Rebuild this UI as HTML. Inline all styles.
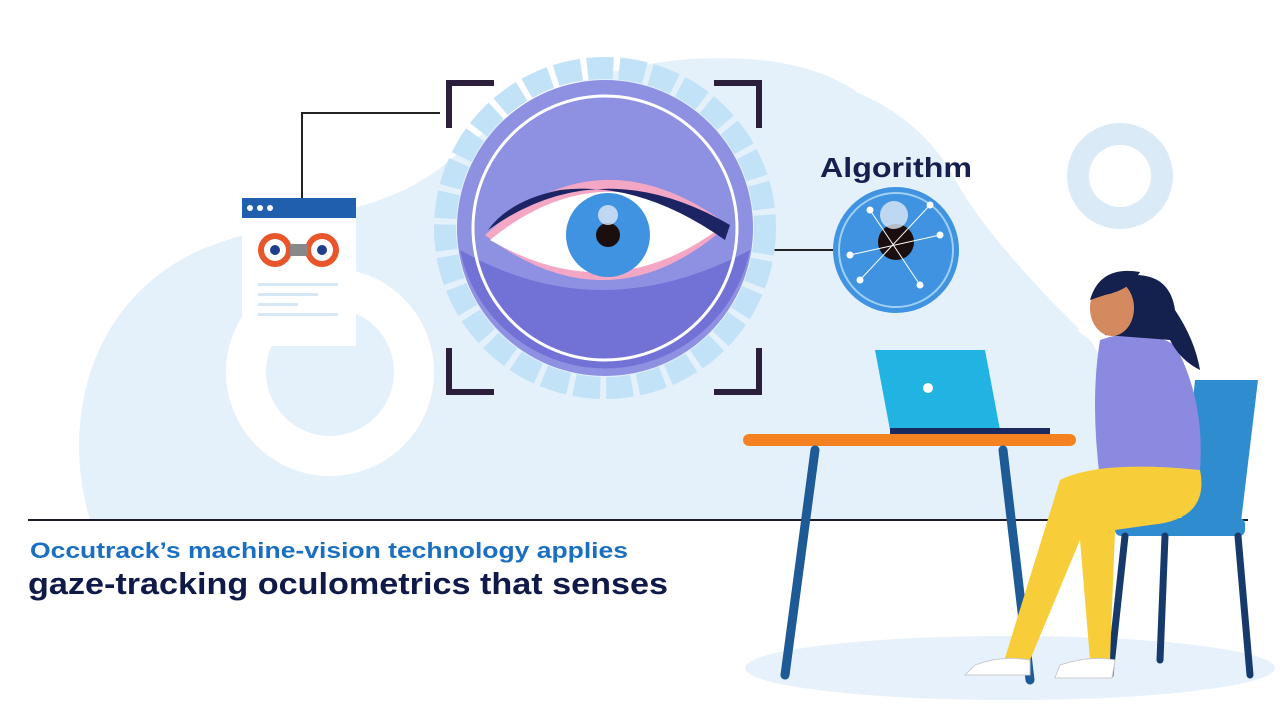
<!DOCTYPE html>
<html><head><meta charset="utf-8"><style>
html,body{margin:0;padding:0;background:#fff;}
svg{display:block}
text{font-family:"Liberation Sans",sans-serif;font-weight:bold}
</style></head><body>
<svg width="1280" height="720" viewBox="0 0 1280 720" xmlns="http://www.w3.org/2000/svg">
<path d="M90 520 C60 420 90 300 200 250 C300 210 380 220 450 160 C540 80 650 50 760 60 C860 70 900 120 940 200 C970 260 1040 300 1090 340 C1120 380 1110 470 1090 520 Z" fill="#e4f1fb"/>
<path d="M700 80 C800 60 900 90 950 170 C980 230 1050 300 1080 330 L900 330 Z" fill="#e4f1fb"/>
<circle cx="330" cy="372" r="84" fill="none" stroke="#fff" stroke-width="40"/>
<circle cx="1120" cy="176" r="42" fill="none" stroke="#dbeaf7" stroke-width="22"/>
<ellipse cx="1010" cy="668" rx="265" ry="32" fill="#e6f1fb"/>
<line x1="28" y1="520" x2="1248" y2="520" stroke="#1b1b2b" stroke-width="2"/>
<polyline points="302,200 302,113 440,113" fill="none" stroke="#222" stroke-width="2"/>
<line x1="755" y1="250" x2="835" y2="250" stroke="#222" stroke-width="2"/>
<rect x="242" y="198" width="114" height="148" fill="#fff"/>
<rect x="242" y="198" width="114" height="20" fill="#1f5fae"/>
<circle cx="250" cy="208" r="3" fill="#fff"/><circle cx="260" cy="208" r="3" fill="#fff"/><circle cx="270" cy="208" r="3" fill="#fff"/>
<circle cx="275" cy="250" r="17" fill="#e8562c"/><circle cx="275" cy="250" r="11" fill="#fff"/><circle cx="275" cy="250" r="5" fill="#1f3f8a"/>
<circle cx="322" cy="250" r="17" fill="#e8562c"/><circle cx="322" cy="250" r="11" fill="#fff"/><circle cx="322" cy="250" r="5" fill="#1f3f8a"/>
<rect x="290" y="244" width="18" height="12" fill="#888"/>
<rect x="258" y="283" width="80" height="3" fill="#d6e7f6"/><rect x="258" y="293" width="60" height="3" fill="#d6e7f6"/><rect x="258" y="303" width="40" height="3" fill="#d6e7f6"/><rect x="258" y="313" width="80" height="3" fill="#d6e7f6"/>
<circle cx="605" cy="228" r="160" fill="none" stroke="#c2e2f7" stroke-width="22" stroke-dasharray="26 6"/>
<circle cx="605" cy="228" r="148" fill="#8e90e2"/>
<path d="M460 250 Q600 330 750 250 A148 148 0 0 1 460 250 Z" fill="#7272d6"/>
<circle cx="605" cy="228" r="132" fill="none" stroke="#fff" stroke-width="3"/>
<path d="M485 235 Q600 130 728 225 Q610 330 485 235 Z" fill="#f4a7c4"/>
<path d="M490 240 Q600 150 720 228 Q610 310 490 240 Z" fill="#fff"/>
<path d="M488 230 Q600 150 730 225 L725 240 Q640 180 560 190 Q510 200 488 230 Z" fill="#1c2464"/>
<circle cx="608" cy="235" r="42" fill="#3f93e0"/>
<circle cx="608" cy="235" r="12" fill="#1a0e0e"/>
<circle cx="608" cy="215" r="10" fill="#dfe9f6" opacity="0.8"/>
<g fill="none" stroke="#2b1f3b" stroke-width="6">
<polyline points="449,128 449,83 494,83"/><polyline points="714,83 759,83 759,128"/>
<polyline points="449,348 449,392 494,392"/><polyline points="714,392 759,392 759,348"/>
</g>
<text x="820" y="177" font-size="28" fill="#16204f" textLength="152" lengthAdjust="spacingAndGlyphs">Algorithm</text>
<circle cx="896" cy="250" r="63" fill="#3f93e0"/>
<circle cx="896" cy="250" r="57" fill="none" stroke="#9fd0f4" stroke-width="2"/>
<circle cx="896" cy="242" r="18" fill="#1a0e0e"/>
<circle cx="894" cy="215" r="14" fill="#dfe9f6" opacity="0.8"/>
<g stroke="#fff" stroke-width="1" fill="#fff">
<line x1="850" y1="255" x2="940" y2="235"/><line x1="870" y1="210" x2="920" y2="285"/><line x1="860" y1="280" x2="930" y2="205"/>
<circle cx="850" cy="255" r="3"/><circle cx="940" cy="235" r="3"/><circle cx="870" cy="210" r="3"/><circle cx="920" cy="285" r="3"/><circle cx="860" cy="280" r="3"/><circle cx="930" cy="205" r="3"/>
</g>
<path d="M875 350 L985 350 L1000 430 L890 430 Z" fill="#21b4e3"/>
<circle cx="928" cy="388" r="5" fill="#fff"/>
<rect x="890" y="428" width="160" height="6" fill="#1b2b60"/>
<rect x="743" y="434" width="333" height="12" rx="6" fill="#f58220"/>
<g stroke="#1e5a96" stroke-width="9" stroke-linecap="round">
<line x1="815" y1="450" x2="785" y2="675"/><line x1="1003" y1="450" x2="1030" y2="680"/>
</g>
<path d="M1195 380 L1258 380 L1240 530 L1180 530 Z" fill="#2f8dcf"/>
<rect x="1115" y="518" width="130" height="18" rx="6" fill="#2f8dcf"/>
<g stroke="#173a6d" stroke-width="7" stroke-linecap="round">
<line x1="1125" y1="536" x2="1110" y2="675"/><line x1="1238" y1="536" x2="1250" y2="675"/><line x1="1165" y1="536" x2="1160" y2="660"/>
</g>
<path d="M1100 340 Q1140 325 1175 345 Q1205 400 1200 470 L1100 480 Q1090 400 1100 340 Z" fill="#8b89e0"/>
<path d="M1060 480 Q1100 460 1200 470 Q1210 520 1150 525 L1115 530 L1110 660 L1090 660 L1080 540 L1030 660 L1005 658 Z" fill="#f8cd3a"/>
<path d="M1105 335 Q1105 280 1135 275 Q1170 275 1175 310 Q1195 340 1200 370 Q1180 360 1170 340 Z" fill="#14204d"/>
<ellipse cx="1112" cy="308" rx="22" ry="28" fill="#d48a5e"/>
<path d="M1090 300 Q1100 265 1140 272 Q1130 290 1105 295 Z" fill="#14204d"/>
<path d="M975 665 Q1000 655 1030 660 L1030 675 L965 675 Z" fill="#fff" stroke="#ccc"/>
<path d="M1060 665 Q1090 655 1115 660 L1112 678 L1055 678 Z" fill="#fff" stroke="#ccc"/>
<text x="30" y="558" font-size="22" fill="#1a6fc2" textLength="598" lengthAdjust="spacingAndGlyphs">Occutrack’s machine-vision technology applies</text>
<text x="28" y="594" font-size="31" fill="#0f1a48" textLength="640" lengthAdjust="spacingAndGlyphs">gaze-tracking oculometrics that senses</text>
</svg>
</body></html>
